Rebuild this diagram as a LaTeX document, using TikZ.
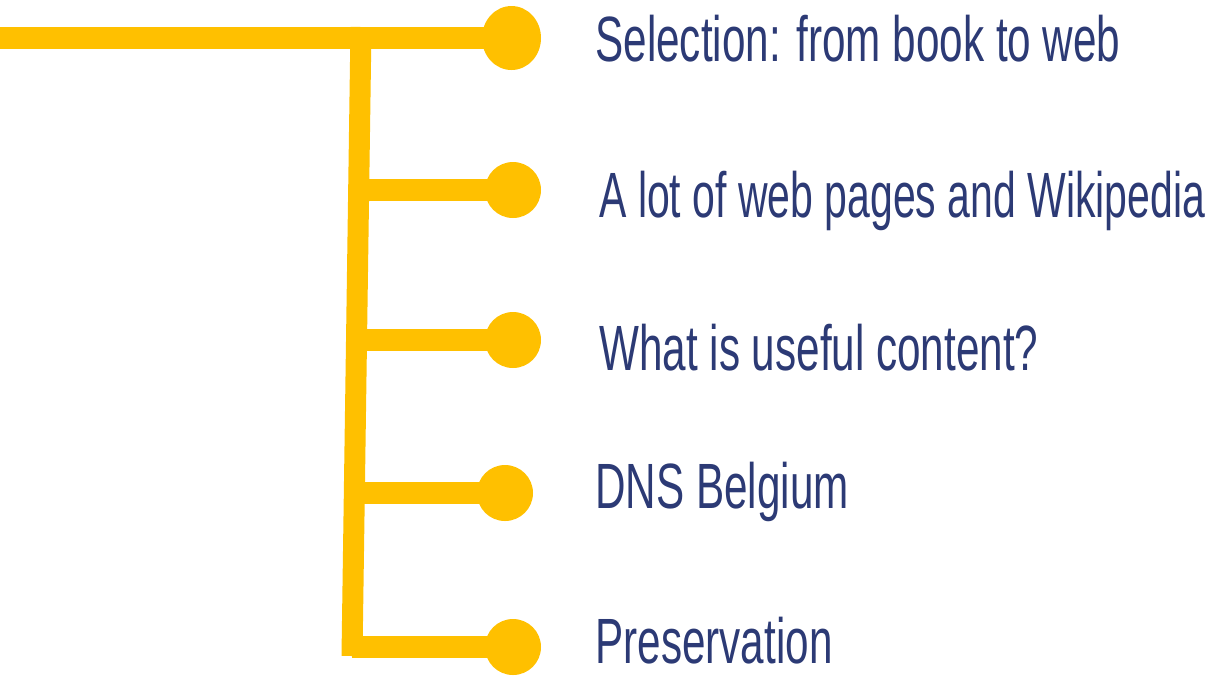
\documentclass[tikz,border=0pt]{standalone}
\usepackage{fontspec}
\setmainfont[FakeStretch=0.66]{Liberation Sans}
\newfontfamily\narrowfont[FakeStretch=0.64]{Liberation Sans}
\usetikzlibrary{positioning,shapes.geometric}
\definecolor{gold}{HTML}{FFC000}
\definecolor{navy}{RGB}{44,58,117}
\tikzset{
  dot/.style={circle,fill=gold,inner sep=0pt,minimum size=28pt},
  item/.style={anchor=base west,inner sep=0pt,text=navy,font=\fontsize{32}{38}\selectfont},
  wire/.style={draw=gold,line width=11pt}
}

\begin{document}
\begin{tikzpicture}[x=0.5pt,y=-0.5pt]
  \useasboundingbox (0,0) rectangle (1212,677);
  % dots
  \node[dot,ellipse,minimum width=29.5pt,minimum height=32pt] (d1) at (511.5,38) {};
  \node[dot] (d2) at (513,190) {};
  \node[dot] (d3) at (513,340) {};
  \node[dot] (d4) at (505,493) {};
  \node[dot] (d5) at (513,647) {};
  % trunk
  \coordinate (in) at (0,38);
  \coordinate (top) at (361,27);
  \coordinate (bot) at (352,656);
  \coordinate (b1) at (361,38);
  \coordinate (b2) at (359,190);
  \coordinate (b3) at (357,340);
  \coordinate (b4) at (354,493);
  \coordinate (b5) at (352,647);
  \path[wire]
    (in) edge (d1.center)
    (top) edge[line width=10.5pt] (bot)
    (b2) edge (d2.center)
    (b3) edge (d3.center)
    (b4) edge (d4.center)
    (b5) edge (d5.center);
  % labels
  \node[item] (t1) at (595,61) {Selection: from book to web};
  \node[item,font=\narrowfont\fontsize{32}{38}\selectfont] (t2) at (599,217) {A lot of web pages and Wikipedia};
  \node[item] (t3) at (599,370) {What is useful content?};
  \node[item] (t4) at (595,508) {DNS Belgium};
  \node[item] (t5) at (595,663) {Preservation};
\end{tikzpicture}
\end{document}
